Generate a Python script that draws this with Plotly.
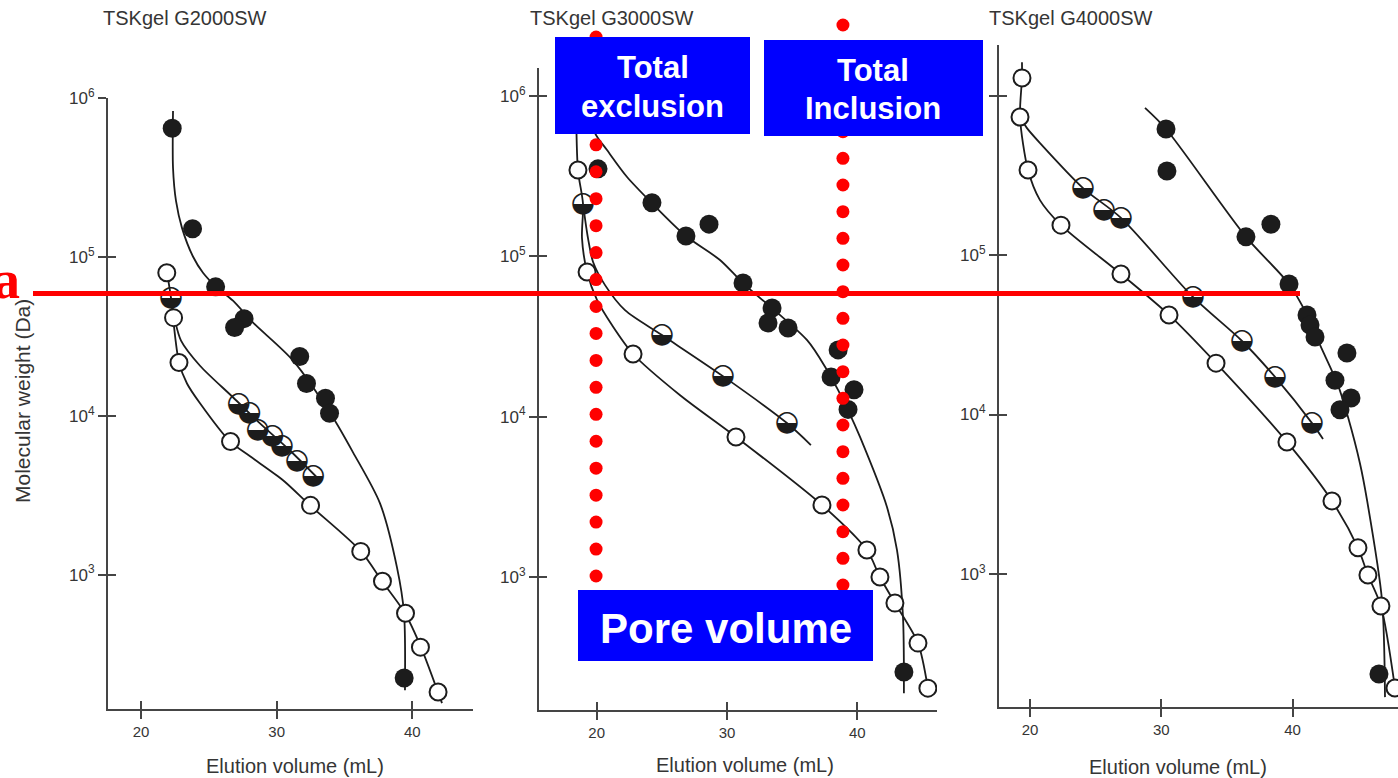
import numpy as np
import plotly.graph_objects as go

W, H = 1398, 778

# ---------------- data ----------------
# elution volume (mL) vs molecular weight (Da)
x_ticks = [20, 30, 40]
y_ticks = [1e3, 1e4, 1e5, 1e6]
y_ticktext = ["10<sup>3</sup>", "10<sup>4</sup>", "10<sup>5</sup>", "10<sup>6</sup>"]
titles = ["TSKgel G2000SW", "TSKgel G3000SW", "TSKgel G4000SW"]

# --- TSKgel G2000SW
g2k_filled_vol = [22.3, 23.8, 25.5, 27.6, 26.9, 31.7, 32.2, 33.6, 33.9, 39.4]
g2k_filled_mw = [6.5e5, 1.51e5, 6.5e4, 4.1e4, 3.6e4, 2.37e4, 1.6e4, 1.29e4, 1.04e4, 223]
g2k_half_vol = [22.2, 27.2, 28.0, 28.6, 29.7, 30.4, 31.5, 32.7]
g2k_half_mw = [5.55e4, 1.18e4, 1.04e4, 8.1e3, 7.5e3, 6.5e3, 5.2e3, 4.2e3]
g2k_open_vol = [21.9, 22.4, 22.8, 26.6, 32.5, 36.2, 37.8, 39.5, 40.6, 41.9]
g2k_open_mw = [7.98e4, 4.16e4, 2.17e4, 6.9e3, 2.73e3, 1.40e3, 908, 571, 349, 182]
g2k_filled_fit_vol = [22.36, 22.36, 22.58, 23.02, 23.83, 24.57, 25.53, 26.78, 28.26, 31.21,
                      34.15, 35.63, 37.62, 38.87, 39.39, 39.46]
g2k_filled_fit_mw = [8.34e5, 3.65e5, 2.26e5, 1.53e5, 1.01e5, 7.98e4, 6.52e4, 5.32e4, 3.87e4,
                     2.23e4, 9.77e3, 5.89e3, 2.81e3, 1.11e3, 571, 187]
g2k_half_fit_vol = [22.21, 22.51, 22.95, 24.35, 26.78, 28.77, 30.98, 33.19]
g2k_half_fit_mw = [5.55e4, 3.98e4, 2.98e4, 2.07e4, 1.31e4, 8.96e3, 6.05e3, 3.92e3]
g2k_open_fit_vol = [21.92, 22.21, 22.36, 22.80, 23.39, 24.35, 26.56, 28.04, 30.47, 32.46,
                    36.22, 37.77, 39.46, 40.64, 41.89, 42.19]
g2k_open_fit_mw = [7.98e4, 5.55e4, 4.16e4, 2.17e4, 1.60e4, 1.20e4, 6.9e3, 5.56e3, 3.93e3,
                   2.73e3, 1.40e3, 908, 571, 349, 182, 155]

# --- TSKgel G3000SW
g3k_filled_vol = [20.1, 24.24, 26.85, 28.62, 31.23, 33.46, 33.15, 34.69, 38.53, 37.99, 39.75, 39.29, 43.58]
g3k_filled_mw = [3.52e5, 2.16e5, 1.34e5, 1.59e5, 6.82e4, 4.76e4, 3.84e4, 3.57e4, 2.61e4,
                 1.77e4, 1.47e4, 1.11e4, 255]
g3k_half_vol = [18.95, 25.01, 29.69, 34.60]
g3k_half_mw = [2.12e5, 3.23e4, 1.79e4, 9.12e3]
g3k_open_vol = [18.56, 19.26, 22.79, 30.69, 37.29, 40.74, 41.74, 42.89, 44.66, 45.42]
g3k_open_mw = [3.46e5, 8.0e4, 2.46e4, 7.47e3, 2.81e3, 1.47e3, 998, 686, 386, 202]
g3k_filled_fit_vol = [19.33, 19.87, 20.79, 22.33, 24.24, 26.85, 29.46, 31.23, 36.15, 37.68,
                      38.52, 39.29, 40.21, 42.28, 43.05, 43.51, 43.58]
g3k_filled_fit_mw = [8.81e5, 5.89e5, 4.61e5, 3.13e5, 2.15e5, 1.34e5, 9.5e4, 6.82e4, 3.0e4,
                     1.95e4, 1.47e4, 1.10e4, 7.47e3, 2.73e3, 1.47e3, 561, 188]
g3k_half_fit_vol = [18.95, 19.33, 19.72, 20.64, 22.17, 25.01, 29.69, 34.60, 36.44]
g3k_half_fit_mw = [2.12e5, 1.30e5, 9.23e4, 6.62e4, 4.62e4, 3.23e4, 1.79e4, 9.12e3, 6.65e3]
g3k_open_fit_vol = [18.41, 18.56, 18.95, 18.87, 19.26, 20.02, 21.17, 22.79, 26.40, 30.69,
                    37.29, 40.74, 41.74, 42.89, 44.66, 45.42, 45.50]
g3k_open_fit_mw = [9.46e5, 3.46e5, 2.12e5, 1.30e5, 8.0e4, 5.35e4, 3.73e4, 2.46e4, 1.36e4,
                   7.47e3, 2.81e3, 1.47e3, 998, 686, 386, 202, 178]

# --- TSKgel G4000SW
g4k_filled_vol = [30.36, 30.43, 36.45, 38.35, 39.73, 41.10, 41.33, 41.71, 44.14, 43.23, 44.45, 43.61, 46.58]
g4k_filled_mw = [6.17e5, 3.36e5, 1.30e5, 1.56e5, 6.58e4, 4.21e4, 3.64e4, 3.06e4, 2.43e4,
                 1.64e4, 1.27e4, 1.07e4, 236]
g4k_half_vol = [24.04, 25.64, 26.93, 32.41, 36.15, 38.66, 41.48]
g4k_half_mw = [2.63e5, 1.91e5, 1.71e5, 5.46e4, 2.89e4, 1.72e4, 8.83e3]
g4k_open_vol = [19.39, 19.24, 19.85, 22.36, 26.93, 30.59, 34.17, 39.57, 43.00, 44.98, 45.74, 46.73, 47.80]
g4k_open_mw = [1.29e6, 7.33e5, 3.41e5, 1.54e5, 7.6e4, 4.21e4, 2.10e4, 6.73e3, 2.87e3,
               1.46e3, 986, 630, 193]
g4k_filled_fit_vol = [28.76, 30.36, 36.45, 39.73, 41.10, 42.09, 43.46, 44.22, 45.13, 45.67, 46.81, 47.04]
g4k_filled_fit_mw = [8.36e5, 6.17e5, 1.30e5, 6.58e4, 4.21e4, 2.73e4, 1.53e4, 9.64e3, 4.95e3,
                     2.91e3, 687, 169]
g4k_half_fit_vol = [19.24, 19.77, 20.76, 24.04, 26.93, 32.41, 36.15, 38.66, 41.48, 42.32]
g4k_half_fit_mw = [7.33e5, 6.25e5, 5.04e5, 2.63e5, 1.71e5, 5.46e4, 2.89e4, 1.72e4, 8.83e3, 7.02e3]
g4k_open_fit_vol = [19.39, 19.39, 19.24, 19.85, 20.76, 22.36, 26.93, 30.59, 34.17, 39.57,
                    43.00, 44.98, 45.74, 46.73, 47.80]
g4k_open_fit_mw = [1.62e6, 1.29e6, 7.33e5, 3.41e5, 2.21e5, 1.54e5, 7.6e4, 4.21e4, 2.10e4,
                   6.73e3, 2.87e3, 1.46e3, 986, 630, 193]

# annotation guides on the G3000SW panel (mL)
total_exclusion_vol = 19.95
total_inclusion_vol = 38.9

# ---------------- styling ----------------
INK = "#1c1c1c"
AX = "#454545"
TXT = "#353535"
SANS = "Liberation Sans, Arial, sans-serif"

panels = [
    dict(x="x", y="y", xd=[108, 473], yd=[98, 709], xr=[17.567, 44.475], yr=[2.153, 6.003],
         ytext=y_ticktext,
         fit=[(g2k_open_fit_vol, g2k_open_fit_mw), (g2k_half_fit_vol, g2k_half_fit_mw),
              (g2k_filled_fit_vol, g2k_filled_fit_mw)],
         open=(g2k_open_vol, g2k_open_mw), half=(g2k_half_vol, g2k_half_mw),
         filled=(g2k_filled_vol, g2k_filled_mw)),
    dict(x="x2", y="y2", xd=[539, 937], yd=[68, 710], xr=[15.57, 46.12], yr=[2.169, 6.176],
         ytext=y_ticktext,
         fit=[(g3k_open_fit_vol, g3k_open_fit_mw), (g3k_half_fit_vol, g3k_half_fit_mw),
              (g3k_filled_fit_vol, g3k_filled_fit_mw)],
         open=(g3k_open_vol, g3k_open_mw), half=(g3k_half_vol, g3k_half_mw),
         filled=(g3k_filled_vol, g3k_filled_mw)),
    dict(x="x3", y="y3", xd=[999, 1398], yd=[45, 707], xr=[17.64, 48.03], yr=[2.166, 6.317],
         ytext=y_ticktext[:3] + [""],
         fit=[(g4k_open_fit_vol, g4k_open_fit_mw), (g4k_half_fit_vol, g4k_half_fit_mw),
              (g4k_filled_fit_vol, g4k_filled_fit_mw)],
         open=(g4k_open_vol, g4k_open_mw), half=(g4k_half_vol, g4k_half_mw),
         filled=(g4k_filled_vol, g4k_filled_mw)),
]

fig = go.Figure()

for p in panels:
    for vx, vy in p["fit"]:
        fig.add_trace(go.Scatter(x=vx, y=vy, xaxis=p["x"], yaxis=p["y"], mode="lines",
                                 line=dict(color=INK, width=1.8, shape="spline", smoothing=0.8),
                                 hoverinfo="skip"))
    ox, oy = p["open"]
    fig.add_trace(go.Scatter(x=ox, y=oy, xaxis=p["x"], yaxis=p["y"], mode="markers",
                             marker=dict(symbol="circle", size=17, color="white",
                                         line=dict(color=INK, width=2)), hoverinfo="skip"))
    hx, hy = p["half"]
    fig.add_trace(go.Scatter(x=hx, y=hy, xaxis=p["x"], yaxis=p["y"], mode="text",
                             text=["\u25D2"] * len(hx), textposition="middle center",
                             textfont=dict(family="DejaVu Sans", size=28, color=INK),
                             hoverinfo="skip"))
    fx, fy = p["filled"]
    fig.add_trace(go.Scatter(x=fx, y=fy, xaxis=p["x"], yaxis=p["y"], mode="markers",
                             marker=dict(symbol="circle", size=19, color=INK, line=dict(width=0)),
                             hoverinfo="skip"))

layout = dict(width=W, height=H, margin=dict(l=0, r=0, t=0, b=0, autoexpand=False),
              paper_bgcolor="white", plot_bgcolor="rgba(0,0,0,0)", showlegend=False)

for i, p in enumerate(panels):
    sx = "" if i == 0 else str(i + 1)
    ox_id, oy_id = str(i + 4), str(i + 4)
    xcommon = dict(range=p["xr"], showgrid=False, zeroline=False, tickmode="array",
                   tickvals=x_ticks, ticklen=8, tickwidth=2, tickcolor=AX, fixedrange=True,
                   automargin=False)
    ycommon = dict(range=p["yr"], type="log", showgrid=False, zeroline=False, tickmode="array",
                   tickvals=y_ticks, ticklen=8, tickwidth=2, tickcolor=AX, fixedrange=True,
                   automargin=False)
    layout["xaxis" + sx] = dict(
        domain=[p["xd"][0] / W, p["xd"][1] / W], anchor=p["y"],
        showline=True, linecolor=AX, linewidth=2, ticks="outside",
        ticktext=[str(v) for v in x_ticks],
        tickfont=dict(family=SANS, size=15, color=TXT), **xcommon)
    layout["yaxis" + sx] = dict(
        domain=[1 - p["yd"][1] / H, 1 - p["yd"][0] / H], anchor=p["x"],
        showline=True, linecolor=AX, linewidth=2, ticks="outside", ticktext=p["ytext"],
        tickfont=dict(family=SANS, size=17, color=TXT), **ycommon)
    # twin axes that only carry the inner half of the crossing tick marks
    layout["xaxis" + ox_id] = dict(overlaying=p["x"], anchor="y" + oy_id, showline=False,
                                   ticks="inside", showticklabels=False, **xcommon)
    layout["yaxis" + oy_id] = dict(overlaying=p["y"], anchor="x" + ox_id, showline=False,
                                   ticks="inside", showticklabels=False, **ycommon)
    fig.add_trace(go.Scatter(x=[p["xr"][0]], y=[10 ** p["yr"][0]], xaxis="x" + ox_id,
                             yaxis="y" + oy_id, mode="markers",
                             marker=dict(size=1, opacity=0), hoverinfo="skip"))

shapes = []
# red dotted guide lines (evenly spaced dots along total exclusion / inclusion volumes)
for vol, top, bottom, n in [(total_exclusion_vol, 37, 576, 21), (total_inclusion_vol, 25, 585, 22)]:
    for yy in np.linspace(top, bottom, n):
        shapes.append(dict(type="circle", xref="x2", yref="paper", xsizemode="pixel",
                           ysizemode="pixel", xanchor=vol, yanchor=1 - yy / H,
                           x0=-6.5, x1=6.5, y0=-6.5, y1=6.5, fillcolor="#ff0000",
                           line=dict(width=0), layer="above"))
# red horizontal line
ly = 1 - 293.5 / H
shapes.append(dict(type="line", xref="paper", yref="paper", x0=33 / W, x1=1300 / W, y0=ly, y1=ly,
                   line=dict(color="#ff0000", width=5), layer="above"))
# blue boxes
for (x0, y0, x1, y1) in [(555, 37, 750, 134), (764, 40, 983, 136), (578, 590, 873, 661)]:
    shapes.append(dict(type="rect", xref="paper", yref="paper", x0=x0 / W, x1=x1 / W,
                       y0=1 - y1 / H, y1=1 - y0 / H, fillcolor="#0000ff",
                       line=dict(width=0), layer="above"))
layout["shapes"] = shapes

ann = []
def text(t, x, y, size, color=TXT, family=SANS, angle=0, xanchor="center"):
    ann.append(dict(text=t, xref="paper", yref="paper", x=x / W, y=1 - y / H,
                    xanchor=xanchor, yanchor="middle", showarrow=False, textangle=angle,
                    font=dict(family=family, size=size, color=color)))

for t, cx in zip(titles, [185, 612, 1071]):
    text(t, cx, 18, 20)
for cx, cy in [(295, 766), (745, 765), (1178, 767)]:
    text("Elution volume (mL)", cx, cy, 20)
text("Molecular weight (Da)", 22, 401, 21, angle=-90)

text("<b>Total</b>", 653, 68, 31, color="white")
text("<b>exclusion</b>", 652, 106, 31, color="white")
text("<b>Total</b>", 873, 70, 31, color="white")
text("<b>Inclusion</b>", 873, 108, 31, color="white")
text("<b>Pore volume</b>", 726, 628, 42, color="white")
text("<b>a</b>", 6, 280, 54, color="#ff0000", family="Liberation Serif, Times New Roman, serif")
layout["annotations"] = ann

fig.update_layout(**layout)
fig.write_html("out.html")
